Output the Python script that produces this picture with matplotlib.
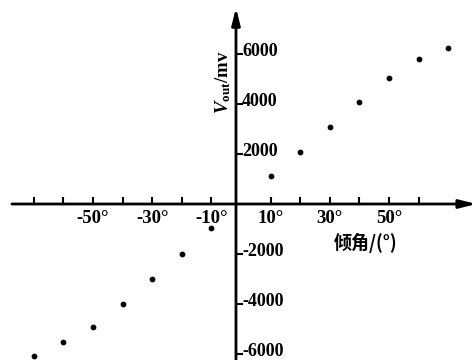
import matplotlib.pyplot as plt

# tilt angle (deg) and output voltage (mV)
angle = [-70, -60, -50, -40, -30, -20, -10, 10, 20, 30, 40, 50, 60, 70]
vout = [-6080, -5520, -4920, -4000, -3000, -2000, -960,
        1120, 2080, 3080, 4080, 5040, 5800, 6240]

xtick_pos = [-70, -60, -50, -40, -30, -20, -10, 10, 20, 30, 40, 50, 60]
xlabel_pos = [-50, -30, -10, 10, 30, 50]
ytick_pos = [-6000, -4000, -2000, 2000, 4000, 6000]

serif = ['Liberation Serif', 'DejaVu Serif']
cjk = ['Noto Sans CJK SC', 'DejaVu Sans']

plt.rcParams['mathtext.fontset'] = 'custom'
plt.rcParams['mathtext.rm'] = 'Liberation Serif:bold'
plt.rcParams['mathtext.it'] = 'Liberation Serif:italic:bold'
plt.rcParams['mathtext.bf'] = 'Liberation Serif:bold'

fig = plt.figure(figsize=(4.77, 3.6), dpi=100)
ax = fig.add_axes([0, 0, 1, 1])
ax.set_xlim(-81.4, 79.7)
ax.set_ylim(-6240, 8160)
ax.axis('off')

x0 = -1.7  # where the vertical axis sits
# axes with arrow heads
ax.annotate('', xy=(79.5, 0), xytext=(-77.4, 0),
            arrowprops=dict(arrowstyle='-|>,head_length=1.0,head_width=0.25',
                            lw=2, color='black', shrinkA=0, shrinkB=0))
ax.annotate('', xy=(x0, 7850), xytext=(x0, -6240),
            arrowprops=dict(arrowstyle='-|>,head_length=1.0,head_width=0.25',
                            lw=2, color='black', shrinkA=0, shrinkB=0))

# x ticks (pointing up)
for t in xtick_pos:
    ax.plot([t, t], [0, 250], color='black', lw=1.5)
for t in xlabel_pos:
    ax.text(t, -250, f'{t}°', ha='center', va='top', fontsize=13.5,
            fontweight='bold', family=serif)

# y ticks (pointing right)
for t in ytick_pos:
    ax.plot([x0, x0 + 2], [t, t], color='black', lw=1.5)
    ax.text(x0 + 2.0, t + 80, f'{t}', ha='left', va='center', fontsize=13,
            fontweight='bold', family=serif)

ax.scatter(angle, vout, s=10, color='black', zorder=3)

ax.text(-6.0, 4880, r'$V_{\mathrm{out}}\mathrm{/mv}$', rotation=90, ha='center',
        va='center', fontsize=13.5, family=serif)
ax.text(42, -1560, '倾角/(°)', ha='center', va='center', fontsize=13,
        fontweight='bold', family=cjk)

fig.savefig('out.png', dpi=100)
